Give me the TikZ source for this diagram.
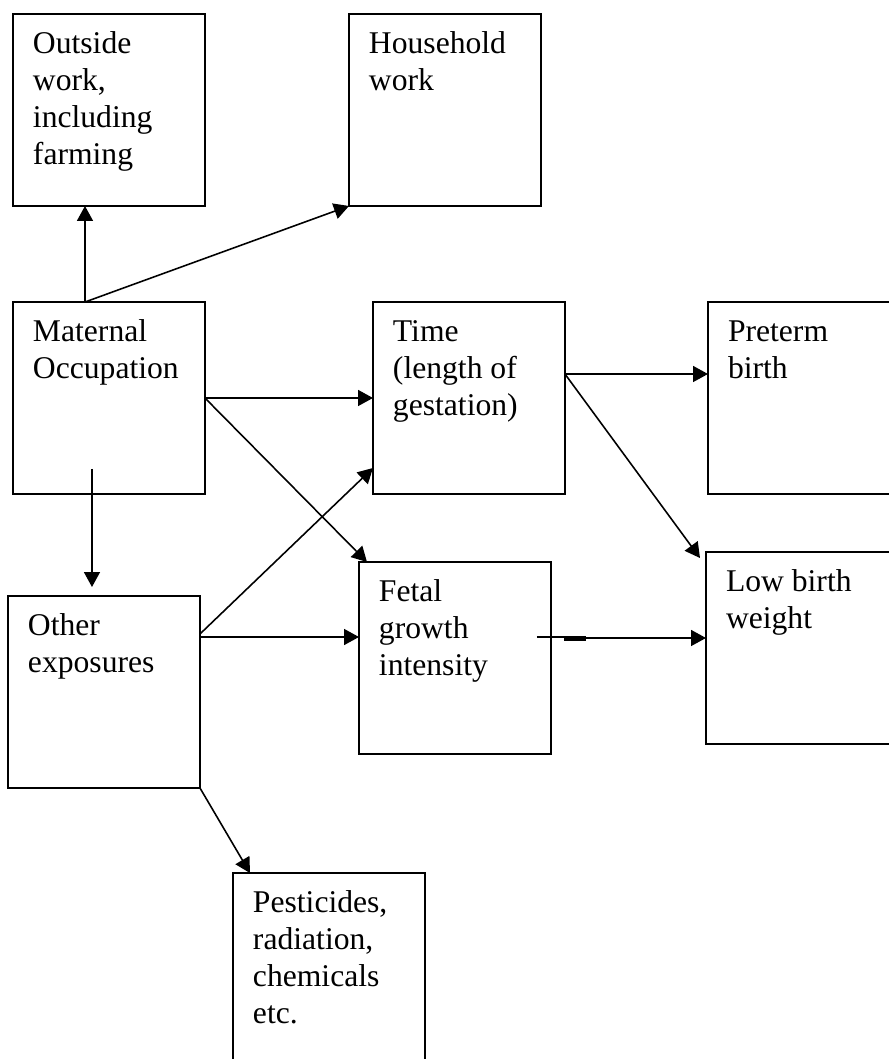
\documentclass[tikz,border=0pt]{standalone}
\usepackage{fontspec}
\setmainfont{Liberation Serif}
\usetikzlibrary{arrows.meta,calc}
\newcommand{\boxtext}[2][3.84cm]{\parbox[t][#1][t]{3.84cm}{\leftskip=0.4cm\vspace*{0.28cm}\strut #2}}
\tikzset{
  >={Triangle[length=0.3cm,width=0.32cm]},
  box/.style={draw=black, line width=1.1pt, inner sep=0pt, outer sep=0pt,
              anchor=north west, font=\fontsize{18}{21}\selectfont},
  flow/.style={->, draw=black, line width=0.9pt},
  stray/.style={draw=black, line width=0.9pt},
}

\begin{document}
\begin{tikzpicture}[x=0.02cm,y=-0.02cm]
  \clip (0,0) rectangle (889,1059);
  \fill[white] (0,0) rectangle (889,1059);
  % boxes
  \node[box] (outside) at (13,14) {\boxtext{Outside\\work,\\including\\farming}};
  \node[box] (household) at (349,14) {\boxtext{Household\\work}};
  \node[box] (maternal) at (13,302) {\boxtext{Maternal\\Occupation}};
  \node[box] (time) at (373,302) {\boxtext{Time\\(length of\\gestation)}};
  \node[box] (preterm) at (708,302) {\boxtext{Preterm\\birth}};
  \node[box] (other) at (8,596) {\boxtext{Other\\exposures}};
  \node[box] (fetal) at (359,562) {\boxtext{Fetal\\growth\\intensity}};
  \node[box] (lbw) at (706,552) {\boxtext{Low birth\\weight}};
  \node[box] (pesticides) at (233,873) {\boxtext[4cm]{Pesticides,\\radiation,\\chemicals\\etc.}};
  % arrows
  \draw[flow] ([xshift=1.44cm]maternal.north west) -- ([xshift=1.44cm]outside.south west);
  \draw[flow] ([xshift=1.44cm]maternal.north west) -- (household.south west);
  \draw[flow] (maternal.east) -- (time.west);
  \draw[flow] (maternal.east) -- ([xshift=0.16cm]fetal.north west);
  \coordinate (downstart) at ([xshift=1.58cm,yshift=0.5cm]maternal.south west);
  \coordinate (downend) at ([yshift=0.18cm]other.north);
  \draw[flow] (downstart) -- (downstart |- downend);
  \draw[flow] ([yshift=-0.76cm]other.north east) -- ([yshift=0.52cm]time.south west);
  \coordinate (tofetal) at ([yshift=-0.82cm]other.north east);
  \draw[flow] (tofetal) -- (tofetal -| fetal.west);
  \coordinate (fromtime) at ([yshift=-1.44cm]time.north east);
  \draw[flow] (fromtime) -- (fromtime -| preterm.west);
  \draw[flow] (fromtime) -- ([xshift=-0.12cm,yshift=-0.12cm]lbw.north west);
  \coordinate (fromfetal) at ([xshift=0.26cm,yshift=-1.52cm]fetal.north east);
  \draw[flow] (fromfetal) -- (fromfetal -| lbw.west);
  \draw[stray] ([xshift=-0.28cm,yshift=-1.5cm]fetal.north east) -- ++(0.98cm,0);
  \draw[stray] ([xshift=0.26cm,yshift=-1.56cm]fetal.north east) -- ++(0.44cm,0);
  \draw[flow] (other.south east) -- ([xshift=0.34cm]pesticides.north west);
\end{tikzpicture}
\end{document}
